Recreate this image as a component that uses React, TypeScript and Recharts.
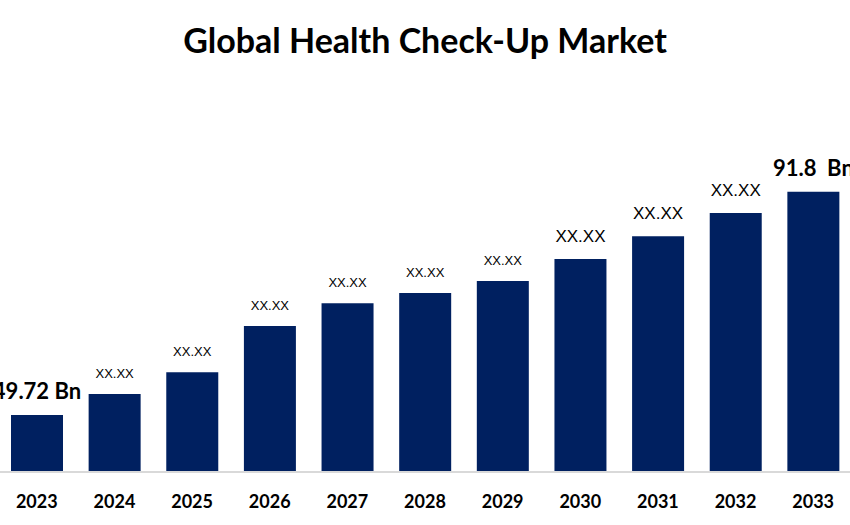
import React from "react";
import { BarChart, Bar, XAxis, YAxis, LabelList } from "recharts";

const years = ["2023", "2024", "2025", "2026", "2027", "2028", "2029", "2030", "2031", "2032", "2033"];
const values = [49.72, 53.7, 57.8, 66.5, 70.8, 72.7, 75.0, 79.1, 83.4, 87.8, 91.8];
const valueLabels = ["49.72 Bn", "XX.XX", "XX.XX", "XX.XX", "XX.XX", "XX.XX", "XX.XX", "XX.XX", "XX.XX", "XX.XX", "91.8\u00A0 Bn"];
const labelKinds = ["big", "small", "small", "small", "small", "small", "small", "mid", "mid", "mid", "big"];

const data = years.map((y, i) => ({ year: y, value: values[i], label: valueLabels[i], kind: labelKinds[i] }));

const BAR_COLOR = "#002060";

const ValueLabel = (props: any) => {
  const { x, y, width, index } = props;
  const d = data[index];
  const cx = x + width / 2;
  if (d.kind === "big") {
    return (
      <text x={cx} y={y - 16} textAnchor="middle" fontFamily="Lato" fontWeight={700} fontSize={22} fill="#000">
        {d.label}
      </text>
    );
  }
  if (d.kind === "mid") {
    return (
      <text x={cx} y={y - 17} textAnchor="middle" fontFamily="Liberation Sans" fontSize={17} fill="#000">
        {d.label}
      </text>
    );
  }
  return (
    <text x={cx} y={y - 16} textAnchor="middle" fontFamily="Liberation Sans" fontSize={13} fill="#000">
      {d.label}
    </text>
  );
};

const YearTick = (props: any) => {
  const { x, y, payload } = props;
  return (
    <text x={x} y={y + 28} textAnchor="middle" fontFamily="Lato" fontWeight={700} fontSize={18} fill="#000">
      {payload.value}
    </text>
  );
};

export default function App() {
  return (
    <div style={{ position: "absolute", left: 0, top: 0, width: 850, height: 525, background: "#fff" }}>
      <div
        style={{
          position: "absolute",
          left: 0,
          top: 20,
          width: 850,
          textAlign: "center",
          fontFamily: "Lato",
          fontWeight: 700,
          fontSize: 34,
          lineHeight: "40px",
          color: "#000",
        }}
      >
        Global Health Check-Up Market
      </div>
      <BarChart width={850} height={525} data={data} margin={{ top: 111, right: -2, bottom: 23, left: -2 }}>
        <YAxis hide domain={[39, 107]} allowDataOverflow />
        <XAxis
          dataKey="year"
          height={30}
          tickLine={false}
          axisLine={{ stroke: "#d9d9d9", strokeWidth: 2 }}
          tick={<YearTick />}
          interval={0}
        />
        <Bar dataKey="value" fill={BAR_COLOR} barSize={52} isAnimationActive={false}>
          <LabelList dataKey="label" content={<ValueLabel />} />
        </Bar>
      </BarChart>
    </div>
  );
}
